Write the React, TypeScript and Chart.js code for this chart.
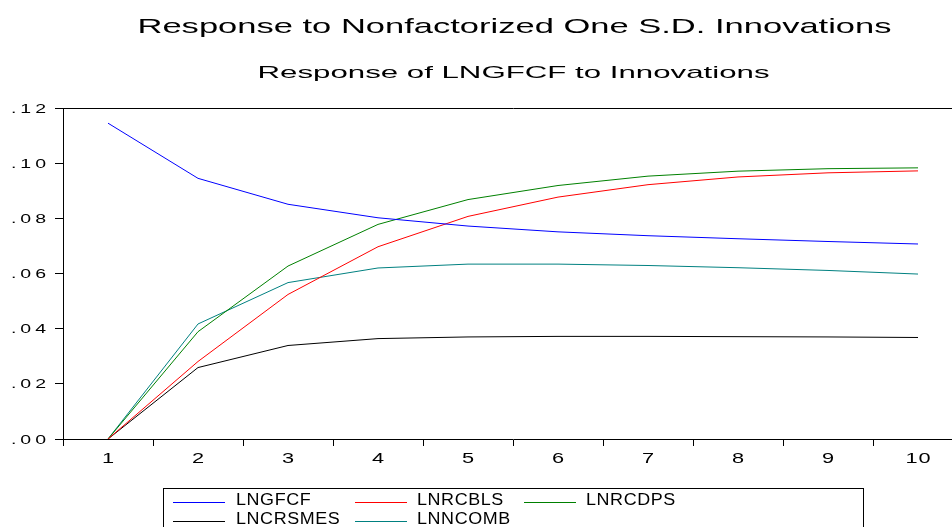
import { useEffect, useRef } from 'react';
import { Chart, registerables } from 'chart.js';

Chart.register(...registerables);

// Impulse-response horizons
const periods = ['1', '2', '3', '4', '5', '6', '7', '8', '9', '10'];

// Response of LNGFCF to a one S.D. innovation in each variable
const lngfcf = [0.1145, 0.0945, 0.0851, 0.0802, 0.0772, 0.0751, 0.0737, 0.0726, 0.0716, 0.0707];
const lnrcbls = [0.0, 0.0281, 0.0524, 0.0697, 0.0807, 0.0877, 0.0922, 0.095, 0.0965, 0.0972];
const lnrcdps = [0.0, 0.0389, 0.0627, 0.0778, 0.0868, 0.0919, 0.0953, 0.0971, 0.098, 0.0983];
const lncrsmes = [0.0, 0.0259, 0.0339, 0.0364, 0.037, 0.0372, 0.0372, 0.0371, 0.037, 0.0368];
const lnncomb = [0.0, 0.0417, 0.0567, 0.062, 0.0634, 0.0634, 0.0629, 0.0621, 0.0611, 0.0598];

const seriesNames = ['LNGFCF', 'LNRCBLS', 'LNRCDPS', 'LNCRSMES', 'LNNCOMB'];
const seriesColors = ['#0000ff', '#ff0000', '#008000', '#000000', '#008080'];
const seriesValues = [lngfcf, lnrcbls, lnrcdps, lncrsmes, lnncomb];

const yTickValues = [0, 0.02, 0.04, 0.06, 0.08, 0.1, 0.12];
const yTickLabels = ['.00', '.02', '.04', '.06', '.08', '.10', '.12'];

const titleText = 'Response to Nonfactorized One S.D. Innovations';
const subtitleText = 'Response of LNGFCF to Innovations';

const FONT = '"Liberation Sans", Arial, Helvetica, sans-serif';

// Draws text glyph by glyph with a horizontal stretch and extra gap between glyphs.
function drawSpaced(
  ctx: CanvasRenderingContext2D,
  text: string,
  x: number,
  y: number,
  size: number,
  sx: number,
  gap: number,
  align: 'left' | 'center' | 'right'
) {
  ctx.save();
  ctx.font = `${size}px ${FONT}`;
  ctx.textAlign = 'left';
  ctx.textBaseline = 'alphabetic';
  const chars = Array.from(text);
  const widths = chars.map((c) => ctx.measureText(c).width * sx);
  const total = widths.reduce((a, b) => a + b, 0) + gap * (chars.length - 1);
  let cx = align === 'left' ? x : align === 'center' ? x - total / 2 : x - total;
  chars.forEach((c, i) => {
    ctx.save();
    ctx.translate(cx, y);
    ctx.scale(sx, 1);
    ctx.fillText(c, 0, 0);
    ctx.restore();
    cx += widths[i] + gap;
  });
  ctx.restore();
}

// Draws a centred line of text stretched to a given width.
function drawFitted(
  ctx: CanvasRenderingContext2D,
  text: string,
  cx: number,
  y: number,
  size: number,
  width: number
) {
  ctx.save();
  ctx.font = `${size}px ${FONT}`;
  ctx.textAlign = 'center';
  ctx.textBaseline = 'alphabetic';
  const natural = ctx.measureText(text).width;
  ctx.translate(cx, y);
  ctx.scale(width / natural, 1);
  ctx.fillText(text, 0, 0);
  ctx.restore();
}

const legendLineX = [173, 355, 524];
const legendTextX = [236, 417, 586];
const legendRowY = [502, 521];

const decorations = {
  id: 'eviewsDecorations',
  afterDraw(chart: any) {
    const ctx: CanvasRenderingContext2D = chart.ctx;
    const { left, top, right } = chart.chartArea;
    const xs = chart.scales.x;
    const ys = chart.scales.y;

    ctx.save();
    ctx.fillStyle = '#000';
    ctx.strokeStyle = '#000';
    ctx.lineWidth = 1;

    // frame: top and right edges
    ctx.beginPath();
    ctx.moveTo(Math.floor(left) + 0.5, Math.floor(top) + 0.5);
    ctx.lineTo(Math.floor(right) + 0.5, Math.floor(top) + 0.5);
    ctx.lineTo(Math.floor(right) + 0.5, chart.chartArea.bottom);
    ctx.stroke();

    // titles
    drawFitted(ctx, titleText, 514.5, 33, 21, 754);
    drawFitted(ctx, subtitleText, 513.5, 78, 17, 512);

    // y tick labels
    yTickValues.forEach((v, i) => {
      const py = ys.getPixelForValue(v);
      drawSpaced(ctx, yTickLabels[i], 46, py + 4.5, 13, 1.5, 4, 'right');
    });

    // x tick labels
    periods.forEach((p, i) => {
      const px = xs.getPixelForValue(i);
      drawSpaced(ctx, p, px, 463, 15, 1.45, 1, 'center');
    });

    // legend
    ctx.strokeRect(163.5, 488.5, 700, 60);
    seriesNames.forEach((name, i) => {
      const col = i % 3;
      const row = Math.floor(i / 3);
      const ly = legendRowY[row] + 0.5;
      ctx.strokeStyle = seriesColors[i];
      ctx.beginPath();
      ctx.moveTo(legendLineX[col], ly);
      ctx.lineTo(legendLineX[col] + 52, ly);
      ctx.stroke();
      drawSpaced(ctx, name, legendTextX[col], legendRowY[row] + 3, 16, 1.12, 0.6, 'left');
    });
    ctx.restore();
  },
};

export default function App() {
  const canvasRef = useRef<HTMLCanvasElement | null>(null);

  useEffect(() => {
    const canvas = canvasRef.current;
    if (!canvas) return;
    const chart = new Chart(canvas, {
      type: 'line',
      data: {
        labels: periods,
        datasets: seriesNames.map((name, i) => ({
          label: name,
          data: seriesValues[i],
          borderColor: seriesColors[i],
          backgroundColor: seriesColors[i],
          borderWidth: 1,
          pointRadius: 0,
          tension: 0,
          fill: false,
        })),
      },
      options: {
        animation: false,
        responsive: false,
        devicePixelRatio: 1,
        layout: { padding: { top: 108, right: 17, left: 0, bottom: 0 } },
        plugins: {
          legend: { display: false },
          title: { display: false },
          tooltip: { enabled: false },
        },
        scales: {
          x: {
            type: 'category',
            offset: true,
            grid: {
              offset: true,
              drawOnChartArea: false,
              drawTicks: true,
              tickLength: 7,
              color: '#000',
            },
            border: { color: '#000', width: 1 },
            ticks: { display: false },
            afterFit: (s: any) => {
              s.height = 88;
            },
          },
          y: {
            type: 'linear',
            min: 0,
            max: 0.12,
            ticks: { stepSize: 0.02, display: false },
            grid: {
              drawOnChartArea: false,
              drawTicks: true,
              tickLength: 8,
              color: '#000',
            },
            border: { color: '#000', width: 1 },
            afterFit: (s: any) => {
              s.width = 63;
            },
          },
        },
      },
      plugins: [decorations],
    });
    return () => chart.destroy();
  }, []);

  return (
    <div
      style={{
        position: 'fixed',
        left: 0,
        top: 0,
        width: 952,
        height: 527,
        overflow: 'hidden',
        background: '#fff',
      }}
    >
      <canvas
        ref={canvasRef}
        width={980}
        height={527}
        style={{ display: 'block', width: 980, height: 527 }}
      />
    </div>
  );
}
